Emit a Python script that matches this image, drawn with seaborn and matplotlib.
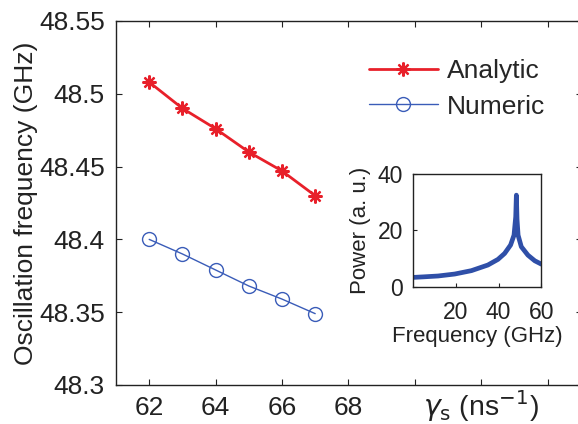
import matplotlib
matplotlib.use("Agg")
import matplotlib.pyplot as plt
import matplotlib.transforms as mtransforms
import seaborn as sns

# main panel data
gamma_s = [62, 63, 64, 65, 66, 67]
analytic = [48.508, 48.490, 48.476, 48.460, 48.447, 48.430]
numeric = [48.400, 48.390, 48.379, 48.368, 48.359, 48.349]

# inset spectrum
spec_freq = [0, 5, 11.7, 19.5, 27.3, 35, 39.7, 42.8, 45.6, 47.2, 48.0, 48.3,
             48.6, 49.1, 50.6, 53.7, 56.9, 60]
spec_power = [3.3, 3.5, 3.8, 4.5, 5.7, 7.7, 9.7, 11.8, 14.8, 18.3, 24.8, 32.5,
              24.0, 18.3, 14.2, 11.2, 9.2, 8.0]

red = "#e8202a"
blue = "#3a5cb8"
inset_blue = "#2f4fa8"
ink = "#222222"

sns.set_style("ticks")
plt.rcParams['font.family'] = ['Liberation Sans', 'DejaVu Sans']
plt.rcParams['mathtext.fontset'] = 'dejavusans'

fig = plt.figure(figsize=(5.78, 4.24), dpi=100)
ax = fig.add_axes([0.2007, 0.092, 0.807, 0.8585])

sns.lineplot(x=gamma_s, y=analytic, ax=ax, color=red, lw=2, marker=(8, 2, 0),
             markersize=10, markeredgewidth=1.6, markeredgecolor=red, label="Analytic")
sns.lineplot(x=gamma_s, y=numeric, ax=ax, color=blue, lw=1, marker="o",
             markersize=10, markerfacecolor="none", markeredgecolor=blue,
             markeredgewidth=1, label="Numeric")

ax.set_xlim(61, 75.05)
ax.set_ylim(48.3, 48.55)
ax.set_xticks([62, 64, 66, 68, 70, 72, 74])
ax.set_xticklabels(["62", "64", "66", "68", "", "", ""])
ax.set_yticks([48.3, 48.35, 48.4, 48.45, 48.5, 48.55])
ax.set_yticklabels(["48.3", "48.35", "48.4", "48.45", "48.5", "48.55"])
ax.tick_params(direction="in", length=4, width=0.8, top=True, right=True,
               labelsize=19, pad=8, colors=ink)
ax.set_ylabel("Oscillation frequency (GHz)", fontsize=19, color=ink, labelpad=1)
for s in ax.spines.values():
    s.set_linewidth(1.0)
    s.set_color(ink)
ax.spines['right'].set_visible(False)

trans = mtransforms.blended_transform_factory(ax.transData, ax.transAxes)
ax.text(72, -0.008, r"$\gamma_{\rm s}$ (ns$^{-1}$)", transform=trans, ha="center",
        va="top", fontsize=20.5, color=ink)

leg = ax.legend(loc="upper left", bbox_to_anchor=(0.52, 0.925), frameon=False,
                fontsize=19, handlelength=2.6, handletextpad=0.35, labelspacing=0.45,
                borderaxespad=0)

# inset
ins = fig.add_axes([0.7145, 0.3238, 0.2222, 0.2658])
sns.lineplot(x=spec_freq, y=spec_power, ax=ins, color=inset_blue, lw=3.4)
ins.set_xlim(0, 60)
ins.set_ylim(0, 40)
ins.set_xticks([20, 40, 60])
ins.set_yticks([0, 20, 40])
ins.tick_params(direction="in", length=3, width=0.8, labelsize=16.5, pad=7,
                colors=ink)
ins.tick_params(axis="x", pad=10)
ins.set_xlabel("Frequency (GHz)", fontsize=16, color=ink, labelpad=2)
ins.set_ylabel("Power (a. u.)", fontsize=16, color=ink, labelpad=5)
for s in ins.spines.values():
    s.set_linewidth(1.0)
    s.set_color(ink)

fig.savefig("out.png", dpi=100)
